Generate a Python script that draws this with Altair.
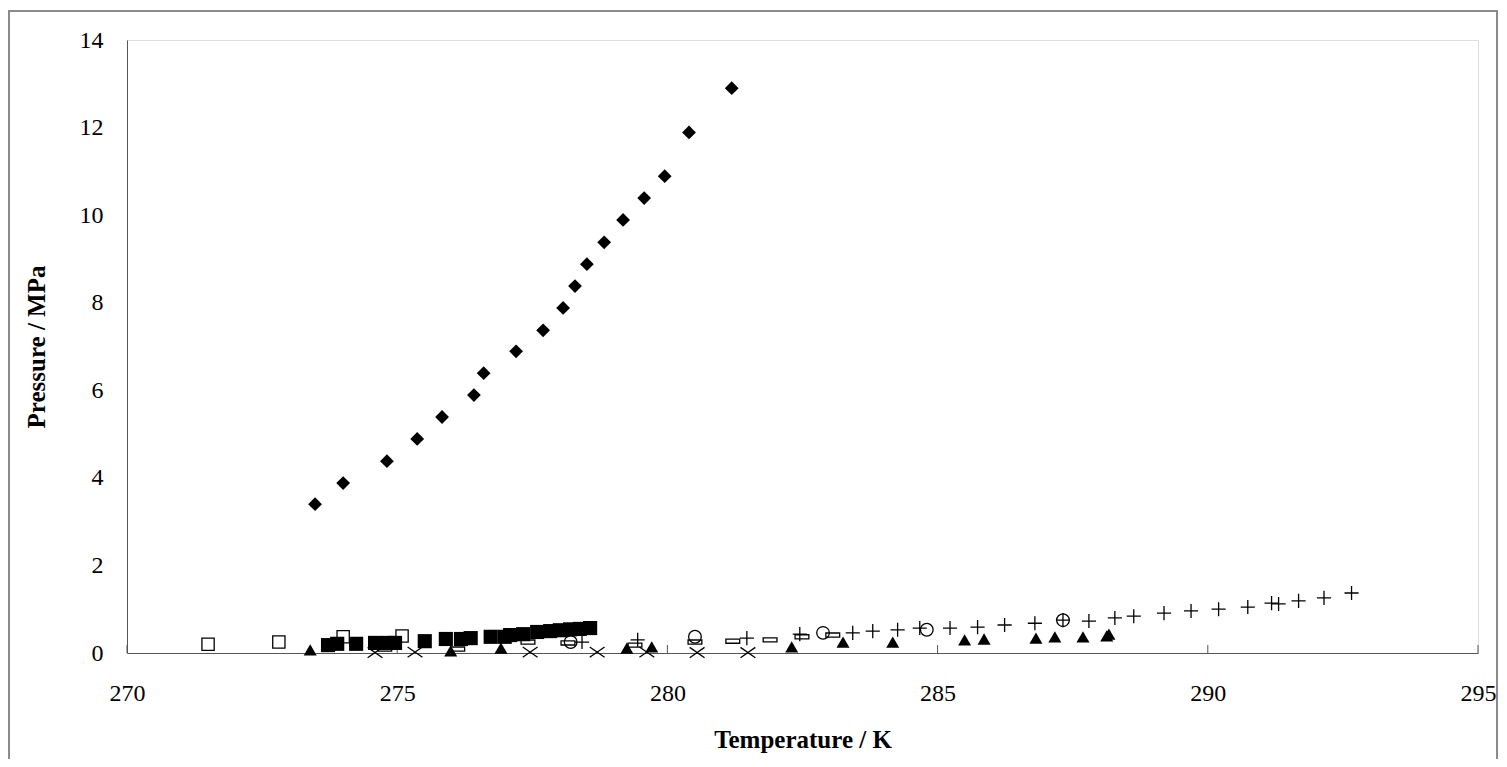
import altair as alt
import pandas as pd

# ---- data ----
diamond_T = [273.48, 274.00, 274.81, 275.37, 275.83, 276.42, 276.60, 277.20, 277.70,
             278.07, 278.29, 278.51, 278.83, 279.18, 279.57, 279.95, 280.40, 281.19]
diamond_P = [3.40, 3.88, 4.38, 4.89, 5.39, 5.89, 6.39, 6.89, 7.37,
             7.88, 8.38, 8.88, 9.38, 9.89, 10.39, 10.89, 11.89, 12.90]

fsq_T = [273.72, 273.89, 274.24, 274.59, 274.83, 274.96, 275.51, 275.90, 276.18, 276.36,
         276.73, 276.99, 277.09, 277.33, 277.59, 277.83, 278.01, 278.20, 278.38, 278.57]
fsq_P = [0.18, 0.21, 0.21, 0.23, 0.23, 0.23, 0.27, 0.32, 0.32, 0.34,
         0.37, 0.37, 0.41, 0.43, 0.48, 0.50, 0.52, 0.54, 0.55, 0.57]

osq_T = [271.50, 272.81, 274.00, 275.09]
osq_P = [0.20, 0.25, 0.37, 0.39]

tri_T = [273.39, 275.99, 276.92, 279.25, 279.71, 282.30, 283.25, 284.17, 285.50,
         285.86, 286.82, 287.17, 287.69, 288.13, 288.17]
tri_P = [0.07, 0.05, 0.11, 0.11, 0.14, 0.14, 0.25, 0.25, 0.30,
         0.32, 0.34, 0.37, 0.37, 0.39, 0.43]

plus_T = [278.42, 279.45, 281.47, 282.45, 283.43, 283.80, 284.26, 284.67, 285.23, 285.74,
          286.24, 286.80, 287.32, 287.80, 288.28, 288.63, 289.19, 289.69, 290.20, 290.74,
          291.18, 291.31, 291.68, 292.15, 292.66]
plus_P = [0.25, 0.30, 0.34, 0.43, 0.46, 0.50, 0.53, 0.57, 0.57, 0.59,
          0.64, 0.68, 0.75, 0.73, 0.80, 0.84, 0.91, 0.96, 1.00, 1.05,
          1.14, 1.12, 1.19, 1.26, 1.37]

cross_T = [274.59, 275.33, 277.46, 278.70, 279.62, 280.55, 281.49]
cross_P = [0.01, 0.02, 0.02, 0.02, 0.02, 0.01, 0.01]

circ_T = [278.21, 280.51, 282.88, 284.80, 287.32]
circ_P = [0.25, 0.37, 0.46, 0.53, 0.75]

dash_T = [274.77, 276.12, 277.42, 278.16, 279.40, 280.51, 281.21, 281.90, 282.49, 283.06]
dash_P = [0.09, 0.09, 0.25, 0.23, 0.18, 0.25, 0.27, 0.30, 0.37, 0.41]

x_ticks = [270, 275, 280, 285, 290, 295]
y_ticks = [0, 2, 4, 6, 8, 10, 12, 14]

FONT = "Liberation Serif"
W, H = 1351, 613

xs = alt.Scale(domain=[270, 295], nice=False, zero=False)
ys = alt.Scale(domain=[0, 14], nice=False)

x_axis = alt.Axis(values=x_ticks, title="Temperature / K", grid=False, ticks=False, tickSize=0,
                  labelFont=FONT, labelFontSize=24, labelColor="black", labelPadding=28,
                  titleFont=FONT, titleFontSize=25, titleFontWeight="bold", titleColor="black",
                  titlePadding=22, domainColor="#555555", labelFlush=False)
y_axis = alt.Axis(values=y_ticks, title="Pressure / MPa", grid=False, ticks=False, tickSize=0,
                  labelFont=FONT, labelFontSize=24, labelColor="black", labelPadding=24,
                  titleFont=FONT, titleFontSize=25, titleFontWeight="bold", titleColor="black",
                  titlePadding=30, domainColor="#555555", labelFlush=False)


def series(T, P, shape, filled, size, sw=1.3):
    df = pd.DataFrame({"T": T, "P": P})
    return alt.Chart(df).mark_point(
        shape=shape, filled=filled, size=size, color="black", strokeWidth=sw, opacity=1
    ).encode(
        x=alt.X("T:Q", scale=xs, axis=x_axis),
        y=alt.Y("P:Q", scale=ys, axis=y_axis),
    )


PLUS = "M-1,0L1,0M0,-1L0,1"
XSHAPE = "M-1,-0.7L1,0.7M-1,0.7L1,-0.7"
DASH = "M-1,-0.3L1,-0.3L1,0.3L-1,0.3Z"

layers = [
    series(diamond_T, diamond_P, "diamond", True, 190),
    series(osq_T, osq_P, "square", False, 150),
    series(fsq_T, fsq_P, "square", True, 200),
    series(tri_T, tri_P, "triangle-up", True, 170),
    series(cross_T, cross_P, XSHAPE, False, 220),
    series(dash_T, dash_P, DASH, False, 190),
    series(circ_T, circ_P, "circle", False, 160),
    series(plus_T, plus_P, PLUS, False, 200),
]

tick_df = pd.DataFrame({"T": x_ticks})
ticks = alt.Chart(tick_df).mark_rule(color="#555555", strokeWidth=1).encode(
    x=alt.X("T:Q", scale=xs, axis=x_axis),
    y=alt.value(H - 8), y2=alt.value(H),
)

frame = alt.Chart(pd.DataFrame({"a": [0]})).mark_rect(
    fill=None, stroke="#8a8a8a", strokeWidth=2
).encode(
    x=alt.value(-118), x2=alt.value(W + 19), y=alt.value(-29), y2=alt.value(H + 140)
)

chart = alt.layer(frame, ticks, *layers).properties(
    width=W, height=H,
    padding={"left": 119, "top": 32, "right": 21, "bottom": 106},
    autosize=alt.AutoSizeParams(type="none"),
).configure_view(stroke="#555555", strokeWidth=1.2).configure(background="white")

chart.save("out.html", embed_options={"renderer": "svg", "actions": False})
